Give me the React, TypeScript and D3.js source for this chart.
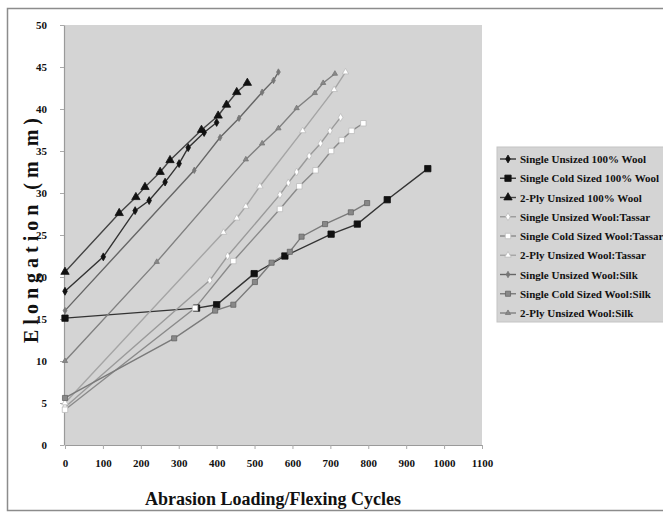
import React, { useEffect, useRef } from "react";
import * as d3 from "d3";

// tick values
const xTicks = [0, 100, 200, 300, 400, 500, 600, 700, 800, 900, 1000, 1100];
const yTicks = [0, 5, 10, 15, 20, 25, 30, 35, 40, 45, 50];

// [cycles, elongation mm]
const singleUnsizedWool = [
  [0, 18.3], [101, 22.4], [185, 27.9], [222, 29.1], [264, 31.3],
  [301, 33.5], [325, 35.4], [367, 37.2], [400, 38.4],
];
const singleColdSizedWool = [
  [0, 15.1], [347, 16.3], [400, 16.7], [499, 20.4], [580, 22.5],
  [702, 25.1], [771, 26.3], [850, 29.2], [957, 32.9],
];
const twoPlyUnsizedWool = [
  [0, 20.6], [143, 27.6], [187, 29.5], [211, 30.7], [251, 32.5], [277, 33.9],
  [360, 37.5], [404, 39.2], [426, 40.5], [453, 42.0], [481, 43.1],
];
const singleUnsizedTassar = [
  [0, 4.5], [382, 19.6], [429, 22.5], [567, 29.8], [589, 31.2], [611, 32.5],
  [644, 34.4], [674, 35.9], [699, 37.4], [727, 39.0],
];
const singleColdSizedTassar = [
  [0, 4.2], [343, 16.3], [444, 21.9], [567, 28.1], [618, 30.8], [661, 32.7],
  [702, 35.0], [730, 36.3], [756, 37.4], [787, 38.3],
];
const twoPlyUnsizedTassar = [
  [0, 5.0], [418, 25.3], [453, 27.0], [477, 28.4], [514, 30.8],
  [627, 37.4], [710, 42.3], [740, 44.4],
];
const singleUnsizedSilk = [
  [0, 16.0], [341, 32.7], [409, 36.6], [459, 38.9], [520, 42.0],
  [550, 43.4], [563, 44.4],
];
const singleColdSizedSilk = [
  [0, 5.6], [288, 12.7], [396, 16.0], [444, 16.7], [501, 19.4], [545, 21.7],
  [593, 23.0], [624, 24.8], [686, 26.3], [754, 27.7], [797, 28.8],
];
const twoPlyUnsizedSilk = [
  [0, 10.0], [242, 21.8], [477, 34.0], [520, 35.9], [563, 37.7],
  [611, 40.1], [659, 41.9], [681, 43.1], [712, 44.2],
];

const series = [
  { name: "Single Unsized 100% Wool", data: singleUnsizedWool, line: "#333", fill: "#111", stroke: "#111", shape: d3.symbolDiamond, size: 18 },
  { name: "Single Cold Sized 100% Wool", data: singleColdSizedWool, line: "#333", fill: "#111", stroke: "#111", shape: d3.symbolSquare, size: 40 },
  { name: "2-Ply Unsized 100% Wool", data: twoPlyUnsizedWool, line: "#444", fill: "#111", stroke: "#111", shape: d3.symbolTriangle, size: 30 },
  { name: "Single Unsized Wool:Tassar", data: singleUnsizedTassar, line: "#9a9a9a", fill: "#fff", stroke: "#bbb", shape: d3.symbolDiamond, size: 18 },
  { name: "Single Cold Sized Wool:Tassar", data: singleColdSizedTassar, line: "#8a8a8a", fill: "#fff", stroke: "#bbb", shape: d3.symbolSquare, size: 30 },
  { name: "2-Ply Unsized Wool:Tassar", data: twoPlyUnsizedTassar, line: "#a5a5a5", fill: "#fff", stroke: "#bbb", shape: d3.symbolTriangle, size: 18 },
  { name: "Single Unsized Wool:Silk", data: singleUnsizedSilk, line: "#666", fill: "#777", stroke: "#777", shape: d3.symbolDiamond, size: 12 },
  { name: "Single Cold Sized Wool:Silk", data: singleColdSizedSilk, line: "#7a7a7a", fill: "#888", stroke: "#666", shape: d3.symbolSquare, size: 26 },
  { name: "2-Ply Unsized Wool:Silk", data: twoPlyUnsizedSilk, line: "#808080", fill: "#888", stroke: "#777", shape: d3.symbolTriangle, size: 12 },
];

const W = 663;
const H = 518;
const plot = { left: 64, right: 482, top: 25, bottom: 445 };
const font = "'Liberation Serif', 'Times New Roman', serif";

const App = () => {
  const ref = useRef(null);

  useEffect(() => {
    const svg = d3.select(ref.current);
    svg.selectAll("*").remove();

    const x = d3.scaleLinear().domain([0, 1100]).range([plot.left + 1, plot.right]);
    const y = d3.scaleLinear().domain([0, 50]).range([plot.bottom, plot.top]);

    svg.append("rect").attr("width", W).attr("height", H).attr("fill", "#fff");

    // outer chart border
    svg
      .append("rect")
      .attr("x", 7.5)
      .attr("y", 8.5)
      .attr("width", W)
      .attr("height", 502)
      .attr("fill", "none")
      .attr("stroke", "#8c8c8c")
      .attr("stroke-width", 1.5);

    // plot background
    svg
      .append("rect")
      .attr("x", plot.left)
      .attr("y", plot.top)
      .attr("width", plot.right - plot.left)
      .attr("height", plot.bottom - plot.top)
      .attr("fill", "#d4d4d4");

    // axes
    const xAxis = svg
      .append("g")
      .attr("transform", `translate(0, ${plot.bottom})`)
      .call(
        d3.axisBottom(x).tickValues(xTicks).tickFormat(d3.format("d"))
          .tickSize(4).tickSizeOuter(0).tickPadding(10)
      );
    const yAxis = svg
      .append("g")
      .attr("transform", `translate(${plot.left}, 0)`)
      .call(d3.axisLeft(y).tickValues(yTicks).tickSize(4).tickSizeOuter(0).tickPadding(13));

    [xAxis, yAxis].forEach((g) => {
      g.select(".domain").attr("stroke", "#9a9a9a").attr("stroke-width", 1.2);
      g.selectAll(".tick line").attr("stroke", "#aaa");
      g.selectAll("text")
        .attr("fill", "#111")
        .style("font-family", font)
        .style("font-weight", "bold")
        .style("font-size", "11px");
    });

    // lines and markers
    const line = d3
      .line()
      .x((d) => x(d[0]))
      .y((d) => y(d[1]));

    series.forEach((s) => {
      svg
        .append("path")
        .datum(s.data)
        .attr("d", line)
        .attr("fill", "none")
        .attr("stroke", s.line)
        .attr("stroke-width", 1.4);
    });

    series.forEach((s) => {
      svg
        .append("g")
        .selectAll("path")
        .data(s.data)
        .enter()
        .append("path")
        .attr("transform", (d) => `translate(${x(d[0])}, ${y(d[1])})`)
        .attr("d", d3.symbol().type(s.shape).size(s.size))
        .attr("fill", s.fill)
        .attr("stroke", s.stroke)
        .attr("stroke-width", 0.8);
    });

    // axis titles
    svg
      .append("text")
      .attr("x", (plot.left + plot.right) / 2)
      .attr("y", 505)
      .attr("text-anchor", "middle")
      .style("font-family", font)
      .style("font-weight", "bold")
      .style("font-size", "18px")
      .attr("fill", "#111")
      .text("Abrasion Loading/Flexing Cycles");

    svg
      .append("text")
      .attr("transform", "translate(38, 228) rotate(-90)")
      .attr("text-anchor", "middle")
      .style("font-family", font)
      .style("font-weight", "bold")
      .style("font-size", "20px")
      .style("letter-spacing", "5px")
      .attr("fill", "#111")
      .text("Elongation (m m)");

    // legend
    const legend = svg.append("g").attr("transform", "translate(497, 147)");
    legend
      .append("rect")
      .attr("width", 170)
      .attr("height", 175)
      .attr("fill", "#d4d4d4")
      .attr("stroke", "#c4c4c4");

    series.forEach((s, i) => {
      const cy = 12 + i * 19.25;
      legend
        .append("line")
        .attr("x1", 3)
        .attr("x2", 19)
        .attr("y1", cy)
        .attr("y2", cy)
        .attr("stroke", s.line)
        .attr("stroke-width", 1.4);
      legend
        .append("path")
        .attr("transform", `translate(11, ${cy})`)
        .attr("d", d3.symbol().type(s.shape).size(s.size))
        .attr("fill", s.fill)
        .attr("stroke", s.stroke)
        .attr("stroke-width", 0.8);
      legend
        .append("text")
        .attr("x", 23)
        .attr("y", cy + 4)
        .style("font-family", font)
        .style("font-weight", "bold")
        .style("font-size", "11px")
        .attr("fill", "#111")
        .text(s.name);
    });
  }, []);

  return (
    <svg
      ref={ref}
      width={W}
      height={H}
      style={{ position: "absolute", left: 0, top: 0 }}
    />
  );
};

export default App;
